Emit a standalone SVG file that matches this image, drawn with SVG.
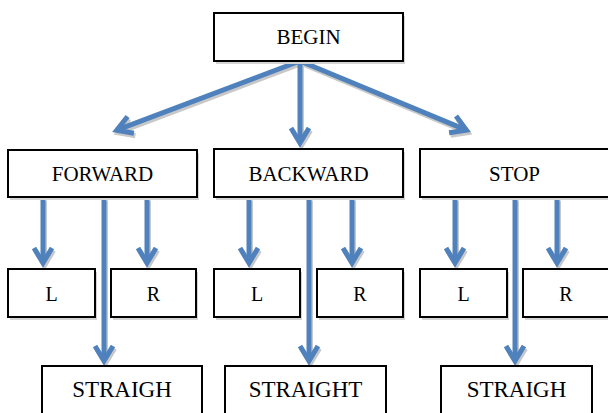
<svg xmlns="http://www.w3.org/2000/svg" width="608" height="413" viewBox="0 0 608 413">
<style>
.box{fill:#fff;stroke:#000;stroke-width:2}
.sh{fill:#d4d4d4;stroke:none}
.t{font-family:"Liberation Serif","Times New Roman",serif;font-size:21px;fill:#000;text-anchor:middle}
.big{font-size:23px}
.sm{font-size:20px}
.c{fill:none;stroke:#4F81BD;stroke-width:5}
.cs{fill:none;stroke:#c8c8c8;stroke-width:5}
</style>
<defs>
<marker id="ah" markerUnits="userSpaceOnUse" orient="auto" markerWidth="40" markerHeight="40" refX="0" refY="0" viewBox="-25 -20 40 40" overflow="visible">
<path d="M-15,-9 L0,0 L-15,9" fill="none" stroke="#4F81BD" stroke-width="5" stroke-linejoin="miter"/>
</marker>
<marker id="ahs" markerUnits="userSpaceOnUse" orient="auto" markerWidth="40" markerHeight="40" refX="0" refY="0" viewBox="-25 -20 40 40" overflow="visible">
<path d="M-15,-9 L0,0 L-15,9" fill="none" stroke="#c8c8c8" stroke-width="5" stroke-linejoin="miter"/>
</marker>
</defs>
<rect width="608" height="413" fill="#fff"/>

<g id="connectors">
<g transform="translate(1.5,2.5)">
<line class="cs" x1="300" y1="61" x2="116.7" y2="130.2" marker-end="url(#ahs)"/>
<line class="cs" x1="300" y1="61" x2="300" y2="143" marker-end="url(#ahs)"/>
<line class="cs" x1="300" y1="61" x2="466.4" y2="130.1" marker-end="url(#ahs)"/>
<line class="cs" x1="43" y1="198" x2="43" y2="263" marker-end="url(#ahs)"/>
<line class="cs" x1="147" y1="198" x2="147" y2="263" marker-end="url(#ahs)"/>
<line class="cs" x1="104" y1="198" x2="104" y2="361" marker-end="url(#ahs)"/>
<line class="cs" x1="249" y1="198" x2="249" y2="263" marker-end="url(#ahs)"/>
<line class="cs" x1="352" y1="198" x2="352" y2="263" marker-end="url(#ahs)"/>
<line class="cs" x1="309" y1="198" x2="309" y2="361" marker-end="url(#ahs)"/>
<line class="cs" x1="455" y1="198" x2="455" y2="263" marker-end="url(#ahs)"/>
<line class="cs" x1="557" y1="198" x2="557" y2="263" marker-end="url(#ahs)"/>
<line class="cs" x1="515" y1="198" x2="515" y2="361" marker-end="url(#ahs)"/>
</g>
<line class="c" x1="300" y1="61" x2="116.7" y2="130.2" marker-end="url(#ah)"/>
<line class="c" x1="300" y1="61" x2="300" y2="143" marker-end="url(#ah)"/>
<line class="c" x1="300" y1="61" x2="466.4" y2="130.1" marker-end="url(#ah)"/>
<line class="c" x1="43" y1="198" x2="43" y2="263" marker-end="url(#ah)"/>
<line class="c" x1="147" y1="198" x2="147" y2="263" marker-end="url(#ah)"/>
<line class="c" x1="104" y1="198" x2="104" y2="361" marker-end="url(#ah)"/>
<line class="c" x1="249" y1="198" x2="249" y2="263" marker-end="url(#ah)"/>
<line class="c" x1="352" y1="198" x2="352" y2="263" marker-end="url(#ah)"/>
<line class="c" x1="309" y1="198" x2="309" y2="361" marker-end="url(#ah)"/>
<line class="c" x1="455" y1="198" x2="455" y2="263" marker-end="url(#ah)"/>
<line class="c" x1="557" y1="198" x2="557" y2="263" marker-end="url(#ah)"/>
<line class="c" x1="515" y1="198" x2="515" y2="361" marker-end="url(#ah)"/>
</g>

<g id="begin">
<rect class="sh" x="216" y="16" width="189" height="48"/>
<rect class="box" x="214" y="13" width="189" height="48"/>
<text class="t" x="308.5" y="44">BEGIN</text>
</g>

<g id="forward">
<rect class="sh" x="10" y="153" width="189" height="47"/>
<rect class="box" x="8" y="150" width="189" height="47"/>
<text class="t" x="102.5" y="181">FORWARD</text>
</g>
<g id="backward">
<rect class="sh" x="216" y="152" width="189" height="48"/>
<rect class="box" x="214" y="149" width="189" height="48"/>
<text class="t" x="308.5" y="181">BACKWARD</text>
</g>
<g id="stop">
<rect class="sh" x="422" y="152" width="190" height="48"/>
<rect class="box" x="420" y="149" width="190" height="48"/>
<text class="t" x="514.5" y="181">STOP</text>
</g>

<g id="l1">
<rect class="sh" x="10" y="272" width="87" height="48"/>
<rect class="box" x="8" y="269" width="87" height="48"/>
<text class="t sm" x="51.5" y="301">L</text>
</g>
<g id="r1">
<rect class="sh" x="113" y="272" width="85" height="48"/>
<rect class="box" x="111" y="269" width="85" height="48"/>
<text class="t sm" x="153.5" y="301">R</text>
</g>
<g id="l2">
<rect class="sh" x="216" y="272" width="86" height="48"/>
<rect class="box" x="214" y="269" width="86" height="48"/>
<text class="t sm" x="257" y="301">L</text>
</g>
<g id="r2">
<rect class="sh" x="319" y="272" width="86" height="48"/>
<rect class="box" x="317" y="269" width="86" height="48"/>
<text class="t sm" x="360" y="301">R</text>
</g>
<g id="l3">
<rect class="sh" x="422" y="272" width="87" height="48"/>
<rect class="box" x="420" y="269" width="87" height="48"/>
<text class="t sm" x="463.5" y="301">L</text>
</g>
<g id="r3">
<rect class="sh" x="525" y="272" width="87" height="48"/>
<rect class="box" x="523" y="269" width="87" height="48"/>
<text class="t sm" x="566" y="301">R</text>
</g>

<g id="straigh1">
<rect class="box" x="42" y="366" width="160" height="52"/>
<text class="t big" x="122" y="397">STRAIGH</text>
</g>
<g id="straight2">
<rect class="box" x="225" y="366" width="161" height="52"/>
<text class="t big" x="305.5" y="397">STRAIGHT</text>
</g>
<g id="straigh3">
<rect class="box" x="441" y="366" width="151" height="52"/>
<text class="t big" x="516.5" y="397">STRAIGH</text>
</g>
</svg>
